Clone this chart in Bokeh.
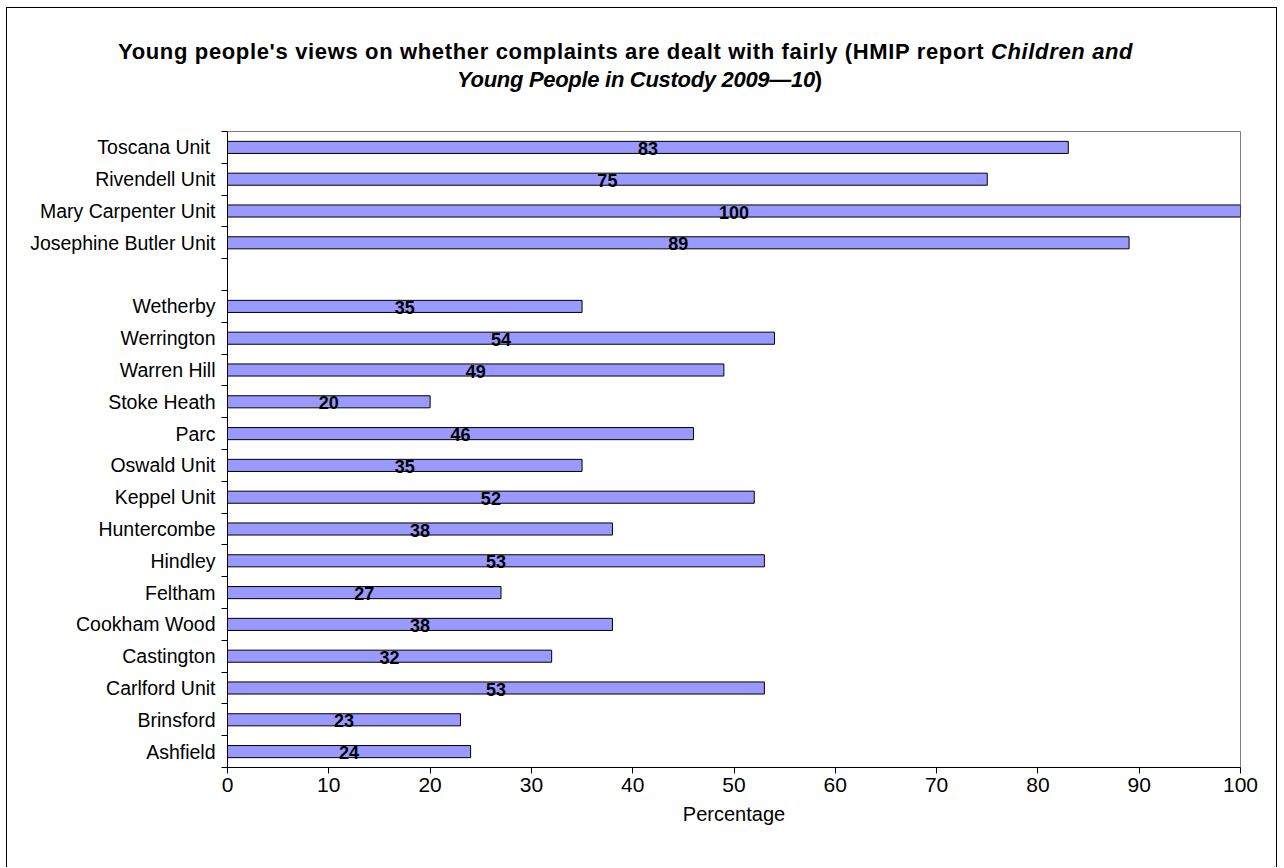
from bokeh.plotting import figure
from bokeh.models import Range1d, FixedTicker, CustomJSTickFormatter, ColumnDataSource, Div
from bokeh.layouts import column
from bokeh.embed import file_html
from bokeh.resources import INLINE
from bokeh.core.properties import value

# Data (bottom to top); "" is the blank gap row
categories = ["Ashfield", "Brinsford", "Carlford Unit", "Castington", "Cookham Wood",
              "Feltham", "Hindley", "Huntercombe", "Keppel Unit", "Oswald Unit", "Parc",
              "Stoke Heath", "Warren Hill", "Werrington", "Wetherby", "",
              "Josephine Butler Unit", "Mary Carpenter Unit", "Rivendell Unit", "Toscana Unit "]
percentages = [24, 23, 53, 32, 38, 27, 53, 38, 52, 35, 46, 20, 49, 54, 35, None,
               89, 100, 75, 83]
x_ticks = [0, 10, 20, 30, 40, 50, 60, 70, 80, 90, 100]
title_line1 = "Young people's views on whether complaints are dealt with fairly (HMIP report "
title_line1_italic = "Children and"
title_line2_italic = "Young People in Custody 2009\u201410"
title_line2_end = ")"

FONT = "Liberation Sans"
W = 1269
TH = 123

ys, vals, mids, txts = [], [], [], []
for i, (c, v) in enumerate(zip(categories, percentages)):
    if v is None:
        continue
    ys.append(i + 0.5)
    vals.append(v)
    mids.append(v / 2)
    txts.append(str(v))
src = ColumnDataSource(dict(y=ys, v=vals, mid=mids, t=txts))

title_html = (
    f'<div style="position:relative;width:{W}px;height:{TH}px;font-family:\'{FONT}\',Arial,sans-serif;'
    'font-weight:bold;font-size:22px;line-height:22px;color:black;">'
    '<div style="position:absolute;left:111px;top:33px;white-space:pre;letter-spacing:0.65px;">'
    f'{title_line1}<i>{title_line1_italic}</i></div>'
    '<div style="position:absolute;left:450px;top:61px;white-space:pre;letter-spacing:-0.3px;">'
    f'<i>{title_line2_italic}</i>{title_line2_end}</div>'
    '</div>'
)
title_div = Div(text=title_html, width=W, height=TH, margin=0)

n = len(categories)
p = figure(width=W, height=859 - TH, output_backend="svg", toolbar_location=None,
           x_range=Range1d(0, 100), y_range=Range1d(0, n),
           min_border_left=220, min_border_right=36, min_border_top=0, min_border_bottom=100,
           background_fill_color="white", border_fill_color="white",
           outline_line_color="#808080", outline_line_width=1, margin=0)
p.grid.visible = False

p.hbar(y="y", right="v", left=0, height=0.38, source=src,
       fill_color="#9999FF", line_color="black", line_width=1)
p.text(x="mid", y="y", text="t", source=src, text_align="center", text_baseline="middle",
       text_font=value(FONT), text_font_style="bold", text_font_size="18px", text_color="black",
       y_offset=1)

xa = p.xaxis[0]
xa.ticker = FixedTicker(ticks=x_ticks)
xa.axis_label = "Percentage"
xa.axis_label_text_font = FONT
xa.axis_label_text_font_style = "normal"
xa.axis_label_text_font_size = "20px"
xa.axis_label_text_color = "black"
xa.axis_label_standoff = 8
xa.major_label_text_font = FONT
xa.major_label_text_font_size = "21px"
xa.major_label_text_color = "black"
xa.major_label_standoff = 4
xa.major_tick_in = 0
xa.major_tick_out = 6
xa.minor_tick_line_color = None
xa.axis_line_color = "black"
xa.major_tick_line_color = "black"

ya = p.yaxis[0]
ya.ticker = FixedTicker(ticks=[i + 0.5 for i in range(n)], minor_ticks=list(range(n + 1)))
ya.formatter = CustomJSTickFormatter(args=dict(names=categories),
                                     code="return names[Math.floor(tick)];")
ya.major_label_text_font = FONT
ya.major_label_text_font_size = "19.5px"
ya.major_label_text_color = "black"
ya.major_label_standoff = 6
ya.major_tick_in = 0
ya.major_tick_out = 6
ya.major_tick_line_color = None
ya.minor_tick_in = 0
ya.minor_tick_out = 6
ya.minor_tick_line_color = "black"
ya.axis_line_color = "black"

layout = column(title_div, p, spacing=0)
layout.styles = {"margin-left": "6px", "margin-top": "7px",
                 "border-left": "1px solid black", "border-top": "1px solid black",
                 "border-right": "1px solid black"}

open("out.html", "w").write(file_html(layout, INLINE))
